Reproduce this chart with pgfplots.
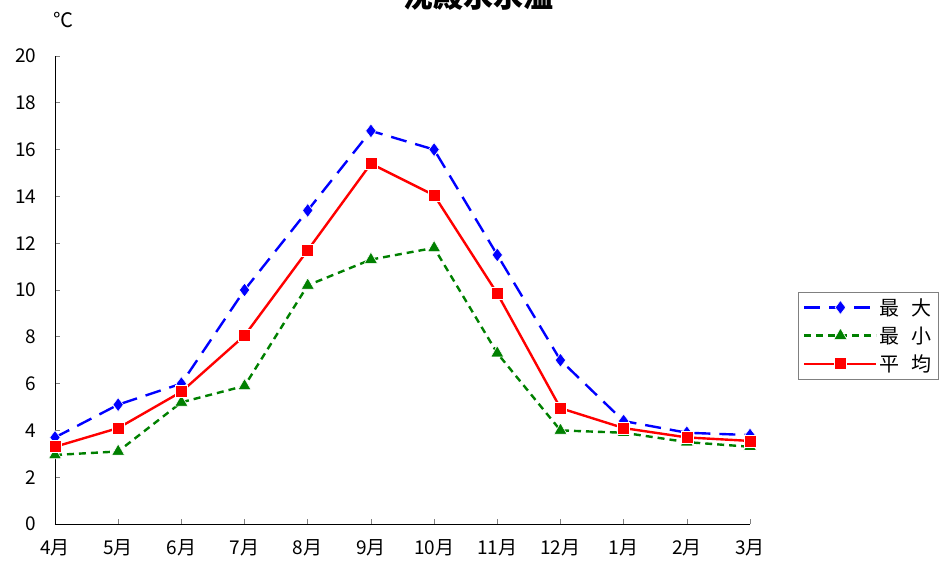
\documentclass[border=0pt]{standalone}
\usepackage{pgfplots}
\pgfplotsset{compat=1.18}
\usepackage{fontspec}
\setmainfont{Noto Sans CJK JP}
\begin{document}
\begin{tikzpicture}[x=1pt,y=1pt]
\begin{axis}[
  at={(55pt,36pt)}, anchor=south west,
  width=695pt, height=468pt, scale only axis,
  xmin=0, xmax=11, ymin=0, ymax=20,
  axis x line*=bottom, axis y line*=left,
  axis line style={black, line width=0.8pt},
  xtick={0,...,11},
  xticklabels={4月,5月,6月,7月,8月,9月,10月,11月,12月,1月,2月,3月},
  ytick={0,2,...,20},
  major tick length=5pt,
  tick style={gray, line width=0.6pt},
  tick align=inside,
  /pgf/number format/assume math mode=true,
  tick label style={font=\fontsize{19}{22}\selectfont},
  xticklabel style={yshift=-12pt},
  yticklabel style={xshift=-15pt},
  legend style={at={(1.069,0.4957)}, anchor=north west, draw=gray, line width=0.6pt,
    font=\fontsize{20}{24}\selectfont, row sep=6pt, inner xsep=5pt, inner ysep=4pt,
    cells={anchor=west}},
  legend image code/.code={\draw[mark repeat=2,mark phase=2,#1] plot coordinates {(0pt,0pt) (36pt,0pt) (72pt,0pt)};},
]
\addplot[blue, line width=2.4pt, dash pattern=on 16pt off 9pt, mark=diamond*, mark size=7pt,
  mark options={solid, fill=blue, draw=white, line width=0.6pt}]
  coordinates {(0,3.7) (1,5.1) (2,6.0) (3,10.0) (4,13.4) (5,16.8) (6,16.0) (7,11.5) (8,7.0) (9,4.4) (10,3.9) (11,3.8)};
\addlegendentry{最\hspace{0.6em}大}
\addplot[black!50!green, line width=2.4pt, dash pattern=on 7pt off 5pt, mark=triangle*, mark size=7.5pt,
  mark options={solid, fill=black!50!green, draw=white, line width=0.6pt}]
  coordinates {(0,2.95) (1,3.1) (2,5.2) (3,5.9) (4,10.2) (5,11.3) (6,11.8) (7,7.3) (8,4.0) (9,3.9) (10,3.5) (11,3.3)};
\addlegendentry{最\hspace{0.6em}小}
\addplot[red, line width=2.4pt, mark=square*, mark size=6pt,
  mark options={solid, fill=red, draw=white, line width=0.6pt}]
  coordinates {(0,3.3) (1,4.1) (2,5.65) (3,8.05) (4,11.7) (5,15.4) (6,14.05) (7,9.85) (8,4.95) (9,4.1) (10,3.7) (11,3.55)};
\addlegendentry{平\hspace{0.6em}均}
\end{axis}
\node[font=\fontsize{20}{24}\selectfont, anchor=base west, inner sep=0pt] at (53pt,532pt) {℃};
\node[font=\fontsize{30}{34}\bfseries\selectfont, anchor=south, inner sep=0pt] at (478pt,549pt) {沈殿水水温};
\pgfresetboundingbox
\useasboundingbox (0pt,0pt) rectangle (942pt,560pt);
\end{tikzpicture}
\end{document}
